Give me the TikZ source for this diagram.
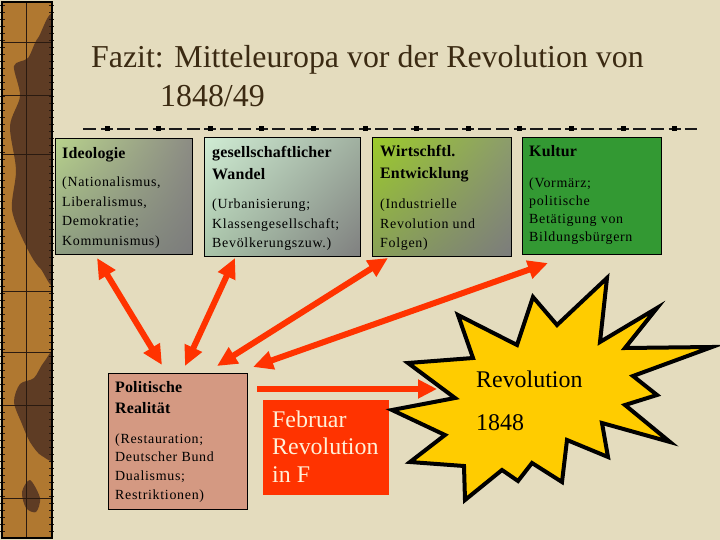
\documentclass[tikz,border=0pt]{standalone}
\usepackage{fontspec}
\setmainfont{Liberation Serif}
\newfontfamily\bodyfont[LetterSpace=5]{Liberation Serif}
\newfontfamily\headfont[LetterSpace=1]{Liberation Serif}
\usetikzlibrary{arrows.meta,calc,shadings}
\newcommand\txtstack[1]{\begin{tabular}[t]{@{}l@{}}#1\end{tabular}}
\definecolor{bg}{HTML}{E4DCBE}
\definecolor{stripL}{HTML}{B07830}
\definecolor{stripD}{HTML}{5E3C24}
\definecolor{stripP}{HTML}{2A1A10}
\definecolor{arrowred}{HTML}{FF3300}
\definecolor{febred}{HTML}{FF3300}
\definecolor{cream}{HTML}{FFF0D8}
\definecolor{starY}{HTML}{FFCC00}
\definecolor{kultgreen}{HTML}{339933}
\definecolor{polrose}{HTML}{D49982}
\definecolor{titlecol}{HTML}{3B2A12}
\definecolor{sepcol}{HTML}{1A1A1A}
\definecolor{idUL}{HTML}{B8D28C}
\definecolor{idUR}{HTML}{8C8C84}
\definecolor{idLL}{HTML}{8C9C80}
\definecolor{idLR}{HTML}{7C7C7C}
\definecolor{geUL}{HTML}{D0ECD4}
\definecolor{geUR}{HTML}{A0B0A0}
\definecolor{geLL}{HTML}{A8C4A8}
\definecolor{geLR}{HTML}{808080}
\definecolor{wiUL}{HTML}{9CCB2A}
\definecolor{wiUR}{HTML}{8C9C6C}
\definecolor{wiLL}{HTML}{88A058}
\definecolor{wiLR}{HTML}{7C7C7C}
\begin{document}
\begin{tikzpicture}[x=1bp,y=-1bp,
  boxst/.style={draw=black, line width=1bp, anchor=north west, inner sep=0pt, outer sep=0pt},
  headtxt/.style={anchor=base west, inner sep=0pt, text=black, font=\headfont\bfseries\fontsize{16}{21.5}\selectfont},
  bodytxt/.style={anchor=base west, inner sep=0pt, text=black, font=\bodyfont\fontsize{14}{19.5}\selectfont},
  redarrow/.style={draw=arrowred, line width=6bp, arrows={Triangle[length=20bp,width=18bp]-Triangle[length=20bp,width=18bp]}},
  onearrow/.style={draw=arrowred, line width=6bp, arrows={-Triangle[length=19bp,width=18bp]}}]
\useasboundingbox (0,0) rectangle (720,540);
\fill[bg] (0,0) rectangle (720,540);

% left decorative strip
\begin{scope}
  \clip (2,2) rectangle (52,538);
  \fill[stripL] (2,2) rectangle (52,538);
  \fill[stripD] plot[smooth cycle] coordinates {(56,26) (38,38) (28,58) (14,66) (20,96) (10,126) (16,170) (12,210) (26,246) (40,268) (58,272)};
  \fill[stripD] plot[smooth cycle] coordinates {(58,352) (44,362) (34,378) (20,384) (14,402) (22,424) (30,442) (42,456) (58,454)};
  \fill[stripD] plot[smooth cycle] coordinates {(30,480) (22,492) (26,508) (36,512) (40,498)};
\end{scope}
\draw[stripP, line width=0.8bp] (26,2) -- (26,538);
\foreach \yy in {42,95,154,291,352,405,498}
  \draw[stripP, line width=0.8bp] (2,\yy) -- (52,\yy);
\foreach \yy in {6,13,...,534} {
  \draw[stripP, line width=1bp] (0,\yy) -- (5,\yy);
  \draw[stripP, line width=1bp] (49,\yy) -- (54,\yy);
}
\draw[black, line width=1.5bp] (2,2) rectangle (52,538);

% title
\node[anchor=base west, inner sep=0pt, text=titlecol, font=\fontsize{32}{35}\selectfont] (title1) at (91,68) {Fazit: Mitteleuropa vor der Revolution von};
\node[anchor=base west, inner sep=0pt, text=titlecol, font=\fontsize{32}{35}\selectfont] (title2) at (160,107) {1848/49};

% separator
\draw[sepcol, line width=1.5bp, dash pattern=on 12bp off 4bp on 13bp off 5bp on 13bp off 4.6bp, dash phase=33.6bp] (83,129) -- (697,129);
\foreach \k in {0,...,11}
  \fill[black] ({107+51.6*\k-2.5},126.5) rectangle +(5,5);

% top boxes
\node[boxst, shade, upper left=idUL, upper right=idUR, lower left=idLL, lower right=idLR, minimum width=137bp, minimum height=115bp] (ideo) at (55,139) {};
\node[boxst, shade, upper left=geUL, upper right=geUR, lower left=geLL, lower right=geLR, minimum width=156bp, minimum height=118bp] (gesell) at (204,138) {};
\node[boxst, shade, upper left=wiUL, upper right=wiUR, lower left=wiLL, lower right=wiLR, minimum width=139bp, minimum height=118bp] (wirt) at (372,138) {};
\node[boxst, fill=kultgreen, minimum width=139bp, minimum height=116bp] (kultur) at (522,138) {};

\node[headtxt] (ideoT) at (62,159) {Ideologie};
\node[bodytxt] (ideoB) at (62,187) {\txtstack{(Nationalismus,\\Liberalismus,\\Demokratie;\\Kommunismus)}};
\node[headtxt] (gesellT) at (212,158) {\txtstack{gesellschaftlicher\\Wandel}};
\node[bodytxt] (gesellB) at (212,209) {\txtstack{(Urbanisierung;\\Klassengesellschaft;\\Bevölkerungszuw.)}};
\node[headtxt] (wirtT) at (380,157) {\txtstack{Wirtschftl.\\Entwicklung}};
\node[bodytxt] (wirtB) at (380,209) {\txtstack{(Industrielle\\Revolution und\\Folgen)}};
\node[headtxt] (kulturT) at (529,157) {Kultur};
\node[bodytxt, font=\bodyfont\fontsize{14}{18}\selectfont] (kulturB) at (529,188) {\txtstack{(Vormärz;\\politische\\Betätigung von\\Bildungsbürgern}};

% bottom boxes
\node[boxst, fill=polrose, minimum width=139bp, minimum height=136bp] (pol) at (108,373) {};
\node[headtxt] (polT) at (115,392) {\txtstack{Politische\\Realität}};
\node[bodytxt, font=\bodyfont\fontsize{14}{19}\selectfont] (polB) at (115,443) {\txtstack{(Restauration;\\Deutscher Bund\\Dualismus;\\Restriktionen)}};

\node[anchor=north west, fill=febred, inner sep=0pt, minimum width=126bp, minimum height=95bp] (feb) at (263,400) {};
\node[anchor=base west, inner sep=0pt, text=cream, font=\fontsize{24}{28}\selectfont] (febT) at (272,427) {\txtstack{Februar\\Revolution\\in F}};

% arrows
\coordinate (a1t) at (97,258);  \coordinate (a1b) at (162,365);
\coordinate (a2t) at (235,258); \coordinate (a2b) at (185,366);
\coordinate (a3t) at (388,258); \coordinate (a3b) at (217,366);
\coordinate (a4t) at (548,263); \coordinate (a4b) at (253,367);
\coordinate (h1) at (257,389);  \coordinate (h2) at (437,389);
\draw[redarrow] (a1t) -- (a1b);
\draw[redarrow] (a2t) -- (a2b);
\draw[redarrow] (a3t) -- (a3b);
\draw[redarrow] (a4t) -- (a4b);
\draw[onearrow] (h1) -- (h2);

% starburst
\draw[line width=4bp, fill=starY, line join=miter, miter limit=20]
  (607,278) -- (600,342) -- (657,308) -- (625,348) -- (712,347) -- (633,376)
  -- (657,395) -- (625,405) -- (670,442) -- (602,423) -- (608,457) -- (567,440)
  -- (562,482) -- (532,463) -- (518,481) -- (502,470) -- (465,500) -- (464,466)
  -- (410,462) -- (445,435) -- (392,410) -- (455,398) -- (408,363) -- (473,358)
  -- (458,315) -- (517,345) -- (533,297) -- (557,325) -- cycle;
\node[anchor=base west, inner sep=0pt, text=black, font=\fontsize{24}{28}\selectfont] (revT) at (476,387) {Revolution};
\node[anchor=base west, inner sep=0pt, text=black, font=\fontsize{24}{28}\selectfont] (yearT) at (476,430) {1848};
\end{tikzpicture}
\end{document}
